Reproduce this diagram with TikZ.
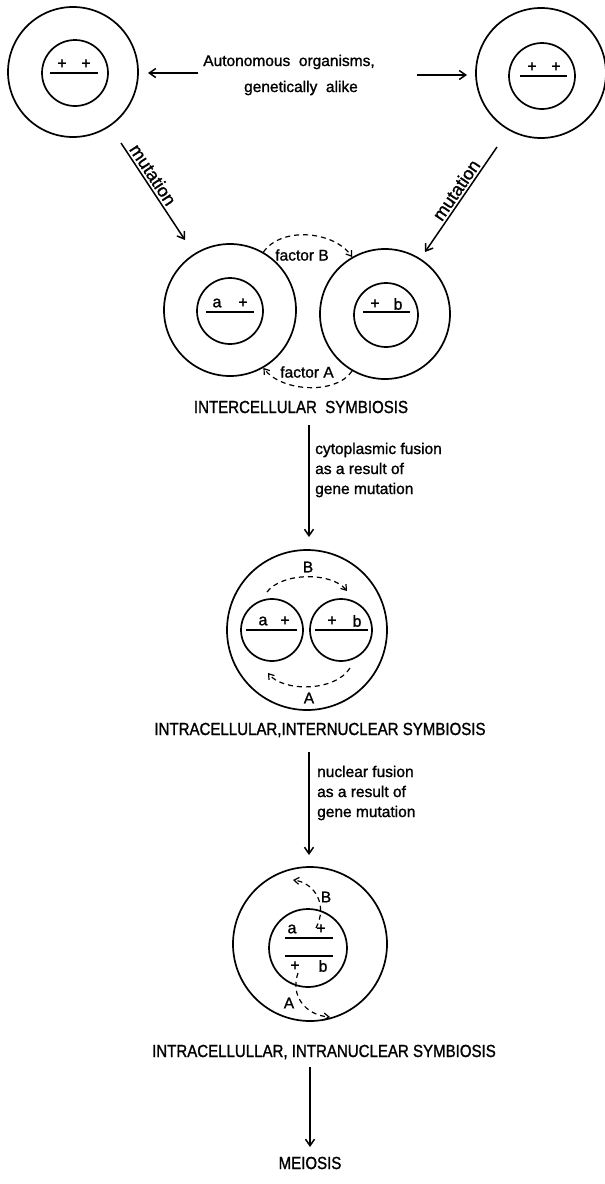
\documentclass[tikz,border=0pt]{standalone}
\usepackage{fontspec}
\setmainfont{Liberation Sans}[FakeBold=1.2]
\newfontfamily\capsfont{Liberation Sans}[FakeStretch=0.86,FakeBold=1.2]
\usetikzlibrary{arrows.meta}
\begin{document}
\begin{tikzpicture}[x=1pt,y=-1pt,
  cellline/.style={line width=1.7pt},
  cell/.style={circle,draw,line width=1.7pt,inner sep=0pt},
  lbl/.style={font=\fontsize{15.5}{20}\selectfont,inner sep=0pt},
  mutlbl/.style={font=\fontsize{18}{20}\selectfont,inner sep=0pt},
  caps/.style={font=\capsfont\fontsize{17.5}{20}\selectfont,inner sep=0pt},
  gene/.style={font=\fontsize{16}{18}\selectfont,inner sep=0pt},
  arr/.style={line width=1.5pt,-{Straight Barb[length=6.5pt,width=9pt]}},
  darr/.style={line width=1.2pt,dash pattern=on 5pt off 4pt,-{Straight Barb[length=5pt,width=7pt]}},
]
\useasboundingbox (0,0) rectangle (605,1184);

% top-left autonomous cell
\node[cell,minimum size=130pt] (c1o) at (73,72) {};
\node[cell,minimum size=66pt] (c1i) at (75,73) {};
\draw[cellline] (50,73) -- (98,73);
\node[gene] (g1a) at (62,64) {+};
\node[gene] (g1b) at (86,64) {+};

% top-right autonomous cell
\node[cell,minimum size=130pt] (c2o) at (541,73) {};
\node[cell,minimum size=66pt] (c2i) at (542,76) {};
\draw[cellline] (520,76) -- (567,76);
\node[gene] (g2a) at (532,67) {+};
\node[gene] (g2b) at (556,67) {+};

% title text
\node[lbl] (auto1) at (289,62) {Autonomous\ \ organisms,};
\node[lbl] (auto2) at (301,88) {genetically\ \ alike};
\coordinate (la) at (198,73);
\coordinate (lb) at (148,73);
\draw[arr] (la) -- (lb);
\coordinate (ra) at (417,75);
\coordinate (rb) at (467,75);
\draw[arr] (ra) -- (rb);

% mutation arrows
\coordinate (m1s) at (121,143);
\coordinate (m1e) at (185,240);
\draw[arr] (m1s) -- node[mutlbl,sloped,above=2pt,pos=0.38] (mut1) {mutation} (m1e);
\coordinate (m2s) at (497,147);
\coordinate (m2e) at (425,252);
\draw[arr] (m2s) -- node[mutlbl,sloped,above=2pt,pos=0.46] (mut2) {mutation} (m2e);

% intercellular symbiosis
\node[cell,minimum size=132pt] (c3o) at (230,310) {};
\node[cell,minimum size=66pt] (c3i) at (230,311) {};
\draw[cellline] (206,312) -- (254,312);
\node[gene] (g3a) at (217,303) {a};
\node[gene] (g3b) at (243,303) {+};

\node[cell,minimum size=130pt] (c4o) at (385,314) {};
\node[cell,minimum size=64pt] (c4i) at (386,315) {};
\draw[cellline] (363,312) -- (410,312);
\node[gene] (g4a) at (375,304) {+};
\node[gene] (g4b) at (398,304) {b};

\draw[darr] (c3o.60) .. controls +(18,-26) and +(-18,-26) .. (c4o.120);
\node[lbl] (fB) at (302,255) {factor B};
\draw[darr] (c4o.-120) .. controls +(-16,24) and +(18,24) .. (c3o.-60);
\node[lbl] (fA) at (307,372) {factor A};

\node[caps] (lab1) at (301,407) {INTERCELLULAR\ \ SYMBIOSIS};
\coordinate (a1s) at (309,425);
\coordinate (a1e) at (309,537);
\draw[arr] (a1s) -- (a1e);
\node[lbl,align=left,anchor=west] (d1) at (315,470) {cytoplasmic fusion\\as a result of\\gene mutation};

% intracellular, internuclear
\node[cell,minimum size=160pt] (c5o) at (307,630) {};
\node[cell,minimum size=62pt] (c5l) at (272,630) {};
\node[cell,minimum size=62pt] (c5r) at (341,630) {};
\draw[cellline] (246,630) -- (297,630);
\node[gene] (g5a) at (263,621) {a};
\node[gene] (g5b) at (285,621) {+};
\draw[cellline] (315,630) -- (368,630);
\node[gene] (g5c) at (332,621) {+};
\node[gene] (g5d) at (357,621) {b};

\coordinate (b5s) at (267,592);
\coordinate (b5e) at (347,591);
\draw[darr] (b5s) .. controls (282,572) and (332,572) .. (b5e);
\node[lbl] (B5) at (308,567) {B};
\coordinate (a5s) at (350,668);
\coordinate (a5e) at (268,673);
\draw[darr] (a5s) .. controls (335,692) and (283,692) .. (a5e);
\node[lbl] (A5) at (309,698) {A};

\node[caps] (lab2) at (320,730) {INTRACELLULAR,INTERNUCLEAR SYMBIOSIS};
\coordinate (a2s) at (309,752);
\coordinate (a2e) at (309,855);
\draw[arr] (a2s) -- (a2e);
\node[lbl,align=left,anchor=west] (d2) at (317,793) {nuclear fusion\\as a result of\\gene mutation};

% intracellular, intranuclear
\node[cell,minimum size=154pt] (c6o) at (310,944) {};
\node[cell,minimum size=78pt] (c6i) at (308,948) {};
\draw[cellline] (285,938) -- (333,938);
\draw[cellline] (285,956) -- (333,956);
\node[gene] (g6a) at (292,929) {a};
\node[gene] (g6b) at (321,929) {+};
\node[gene] (g6c) at (295,966) {+};
\node[gene] (g6d) at (323,966) {b};

\coordinate (b6s) at (316,928);
\coordinate (b6e) at (293,880);
\draw[darr] (b6s) .. controls (328,905) and (315,883) .. (b6e);
\node[lbl] (B6) at (326,897) {B};
\coordinate (a6s) at (298,973);
\coordinate (a6e) at (330,1017);
\draw[darr] (a6s) .. controls (290,995) and (305,1015) .. (a6e);
\node[lbl] (A6) at (289,1003) {A};

\node[caps] (lab3) at (324,1052) {INTRACELLULLAR, INTRANUCLEAR SYMBIOSIS};
\coordinate (a3s) at (310,1067);
\coordinate (a3e) at (310,1147);
\draw[arr] (a3s) -- (a3e);
\node[caps] (lab4) at (310,1163) {MEIOSIS};
\end{tikzpicture}
\end{document}
